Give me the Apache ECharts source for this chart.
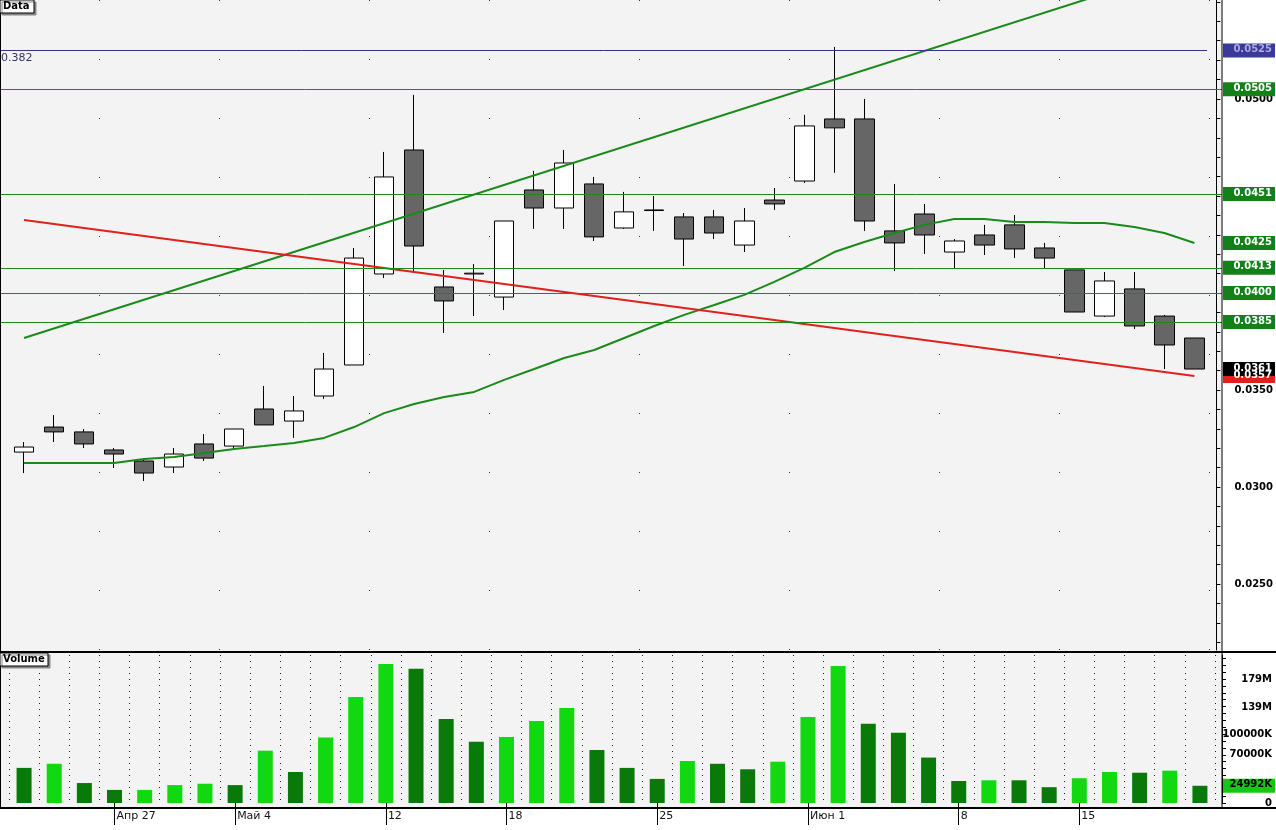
<!DOCTYPE html>
<html>
<head>
<meta charset="UTF-8">
<title>Data</title>
<script src="https://cdn.jsdelivr.net/npm/echarts@6/dist/echarts.min.js"></script>
<style>html,body{margin:0;padding:0;background:#fff}</style>
</head>
<body>
<div id="main" style="width:1276px;height:830px;"></div>
<script>
// candles: [open, close, low, high]
var opens  = [0.03180,0.03309,0.03284,0.03191,0.03134,0.03103,0.03222,0.03211,0.03402,0.03340,
              0.03469,0.03629,0.04098,0.04737,0.04031,0.04098,0.03979,0.04531,0.04438,0.04562,
              0.04335,0.04428,0.04392,0.04392,0.04247,0.04479,0.04577,0.04897,0.04897,0.04320,
              0.04407,0.04211,0.04299,0.04351,0.04232,0.04119,0.03881,0.04021,0.03881,0.03768];
var closes = [0.03206,0.03284,0.03222,0.03170,0.03072,0.03170,0.03149,0.03299,0.03320,0.03392,
              0.03608,0.04180,0.04598,0.04242,0.03959,0.04102,0.04371,0.04438,0.04670,0.04289,
              0.04418,0.04425,0.04278,0.04309,0.04371,0.04459,0.04861,0.04851,0.04371,0.04258,
              0.04299,0.04268,0.04247,0.04227,0.04180,0.03902,0.04062,0.03830,0.03732,0.03608];
var lows   = [0.03072,0.03232,0.03201,0.03098,0.03031,0.03072,0.03134,0.03191,0.03320,0.03253,
              0.03454,0.03629,0.04077,0.04103,0.03794,0.03881,0.03912,0.04330,0.04330,0.04268,
              0.04330,0.04320,0.04139,0.04278,0.04211,0.04428,0.04567,0.04619,0.04320,0.04113,
              0.04201,0.04129,0.04196,0.04180,0.04124,0.03902,0.03876,0.03814,0.03608,0.03608];
var highs  = [0.03232,0.03371,0.03299,0.03201,0.03144,0.03201,0.03273,0.03299,0.03521,0.03469,
              0.03691,0.04232,0.04727,0.05021,0.04119,0.04149,0.04371,0.04629,0.04737,0.04598,
              0.04521,0.04500,0.04412,0.04428,0.04438,0.04541,0.04918,0.05268,0.05000,0.04562,
              0.04459,0.04278,0.04351,0.04402,0.04258,0.04119,0.04108,0.04108,0.03887,0.03768];
var maLine = [0.03124,0.03124,0.03124,0.03124,0.03144,0.03155,0.03175,0.03196,0.03211,0.03227,
              0.03253,0.03309,0.03381,0.03428,0.03464,0.03490,0.03552,0.03608,0.03665,0.03706,
              0.03768,0.03830,0.03887,0.03938,0.03990,0.04057,0.04129,0.04211,0.04263,0.04309,
              0.04351,0.04381,0.04381,0.04366,0.04366,0.04361,0.04361,0.04340,0.04309,0.04258];
var volumes = [51,57,29,19,19,26,28,26,76,45,95,154,202,195,122,89,96,119,138,77,
               51,35,61,57,49,60,125,199,115,102,66,32,33,33,23,36,45,44,47,25];
var volDark = [1,0,1,1,0,0,0,1,0,1,0,0,0,1,1,1,0,0,0,1,
               1,1,0,1,1,0,0,0,1,1,1,1,0,1,1,0,0,1,0,1];
var dayLabels = {3:'Апр 27',7:'Май 4',12:'12',16:'18',21:'25',26:'Июн 1',31:'8',35:'15'};
var greenTrend = [[0,0.03768],[39,0.05691]];
var redTrend = [[0,0.04376],[39,0.03572]];
var levels = [0.0505,0.0451,0.0413,0.0400,0.0385];
var fibLevel = 0.0525;
var priceTicks = [0.025,0.030,0.035,0.040,0.045,0.050];
var volTicks = [0,70,100,139,179];

var cats = opens.map(function(v,i){return i;});
var candles = opens.map(function(o,i){return [o,closes[i],lows[i],highs[i]];});
var minorTicks = [];
for (var t = 22; t <= 55; t++) minorTicks.push(t/1000);
var volMinor = [];
for (var k = 0; k <= 210; k += 10) volMinor.push(k);

var chart = echarts.init(document.getElementById('main'));
var font = 'DejaVu Sans';
var isWeek = function(i){return dayLabels[i]!==undefined;};
chart.setOption({
  animation: false,
  backgroundColor: '#fff',
  grid: [
    {left:9, right:61, top:0, bottom:180},
    {left:9, right:61, top:655, bottom:27}
  ],
  xAxis: [
    {type:'category', data:cats, gridIndex:0, axisLine:{show:false}, axisTick:{show:false}, axisLabel:{show:false},
     splitLine:{show:true, interval:isWeek, lineStyle:{color:'#333', type:[1,58], width:1}}},
    {type:'category', data:cats, gridIndex:1, axisLine:{show:false},
     axisTick:{show:true, interval:isWeek, alignWithLabel:true, length:22, lineStyle:{color:'#000'}},
     axisLabel:{interval:isWeek, formatter:function(v){return dayLabels[v]||'';},
       align:'left', margin:8, padding:[0,0,0,2], color:'#111', fontFamily:font, fontSize:11},
     splitLine:{show:true, interval:0, lineStyle:{color:'#222', type:[1,5]}}}
  ],
  yAxis: [
    {type:'value', gridIndex:0, position:'right', offset:7, min:0.0216, max:0.0551, scale:true,
     axisLine:{show:true, lineStyle:{color:'#000'}},
     axisTick:{show:true, customValues:minorTicks, length:4, lineStyle:{color:'#000'}},
     axisLabel:{customValues:priceTicks, formatter:function(v){return v.toFixed(4);}, margin:18,
       color:'#000', fontWeight:'bold', fontSize:10, fontFamily:font},
     splitLine:{show:false}},
    {type:'value', gridIndex:1, position:'right', offset:7, min:0, max:215,
     axisLine:{show:true, lineStyle:{color:'#000'}},
     axisTick:{show:true, customValues:volMinor, length:4, lineStyle:{color:'#000'}},
     axisLabel:{customValues:volTicks, formatter:function(v){return v===0?'0':(v<139? v*1000+'K' : v+'M');},
       align:'right', margin:50, color:'#000', fontWeight:'bold', fontSize:10, fontFamily:font},
     splitLine:{show:false}}
  ],
  series: [
    {type:'candlestick', xAxisIndex:0, yAxisIndex:0, data:candles, barWidth:20,
     itemStyle:{color:'#fff', color0:'#666', borderColor:'#000', borderColor0:'#000', borderWidth:1}},
    {type:'line', xAxisIndex:0, yAxisIndex:0, data:maLine, symbol:'none', lineStyle:{color:'#1a8a1a', width:2}},
    {type:'line', xAxisIndex:0, yAxisIndex:0, data:greenTrend, symbol:'none', lineStyle:{color:'#1a8a1a', width:2}},
    {type:'line', xAxisIndex:0, yAxisIndex:0, data:redTrend, symbol:'none', lineStyle:{color:'#e0201c', width:2}},
    {type:'bar', xAxisIndex:1, yAxisIndex:1, barWidth:15,
     data:volumes.map(function(v,i){return {value:v, itemStyle:{color: volDark[i] ? '#097a09' : '#12d812'}};})}
  ]
});

// level lines and right-side value tags, placed through the axis scale
var g = [
  {type:'rect', z:-10, shape:{x:0,y:0,width:1222,height:808}, style:{fill:'#f3f3f3'}, silent:true},
  {type:'line', shape:{x1:0,y1:652,x2:1276,y2:652}, style:{stroke:'#000', lineWidth:2}, z:50},
  {type:'line', shape:{x1:0,y1:808,x2:1276,y2:808}, style:{stroke:'#000', lineWidth:2}, z:50},
  {type:'line', shape:{x1:1222,y1:0,x2:1222,y2:808}, style:{stroke:'#000', lineWidth:1}, z:50},
  {type:'line', shape:{x1:0.5,y1:0,x2:0.5,y2:808}, style:{stroke:'#000', lineWidth:1}, z:50}
];
function py(v){ return chart.convertToPixel({yAxisIndex:0}, v); }
levels.forEach(function(v){
  var y = Math.round(py(v)) + 0.5;
  g.push({type:'line', shape:{x1:0,y1:y,x2:1222,y2:y}, style:{stroke:'#1a8a1a', lineWidth:1}, z:20});
});
var fy = Math.round(py(fibLevel)) + 0.5;
g.push({type:'line', shape:{x1:0,y1:fy,x2:1207,y2:fy}, style:{stroke:'#33338a', lineWidth:1}, z:20});
g.push({type:'text', x:1, y:fy+2, style:{text:'0.382', fill:'#333366', font:'11px '+font}, z:20});
function tag(y, text, bg, fg){
  g.push({type:'rect', shape:{x:1223,y:y-7,width:52,height:14}, style:{fill:bg}, z:60});
  g.push({type:'text', x:1272, y:y-6, style:{text:text, fill:fg, align:'right', font:'bold 10px '+font}, z:61});
}
tag(py(fibLevel), '0.0525', '#3a3a9a', '#aaaadd');
levels.forEach(function(v){ tag(py(v), v.toFixed(4), '#14801a', '#fff'); });
tag(py(maLine[maLine.length-1]), '0.0425', '#14801a', '#fff');
tag(py(redTrend[1][1]), '0.0357', '#e0201c', '#fff');
tag(py(closes[closes.length-1]), '0.0361', '#000', '#fff');
var vy = chart.convertToPixel({yAxisIndex:1}, volumes[volumes.length-1]);
tag(vy, '24992K', '#12c812', '#000');
function label(x, y, text){
  g.push({type:'rect', shape:{x:x,y:y,width:text.length*7+6,height:13}, style:{fill:'#fff', stroke:'#000', lineWidth:1, shadowColor:'#888', shadowOffsetX:2, shadowOffsetY:2}, z:70});
  g.push({type:'text', x:x+3, y:y+1, style:{text:text, fill:'#000', font:'bold 10px '+font}, z:71});
}
label(0, 0, 'Data');
label(0, 653, 'Volume');
chart.setOption({graphic: g});
</script>
</body>
</html>
